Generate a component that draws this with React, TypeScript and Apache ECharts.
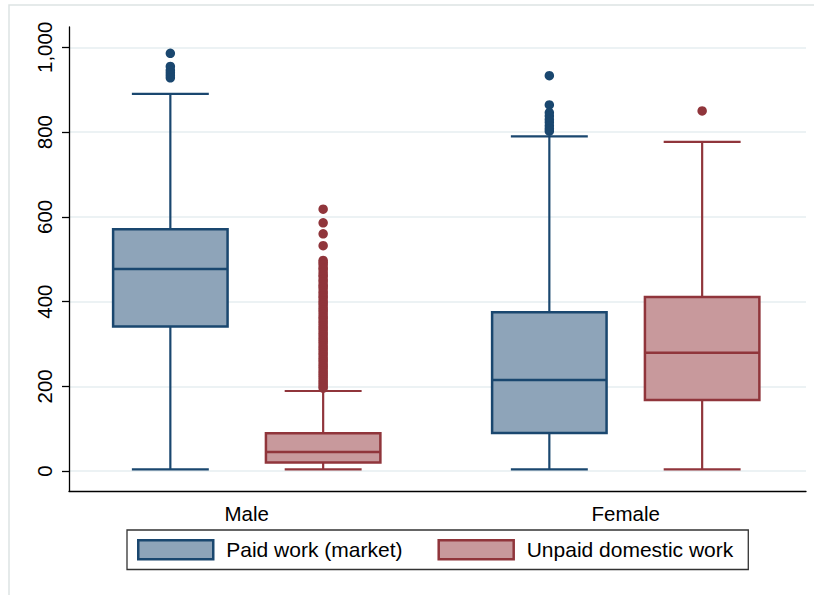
import React, { useEffect, useRef } from 'react';
import * as echarts from 'echarts';

const groups = ['Male', 'Female'];
const seriesNames = ['Paid work (market)', 'Unpaid domestic work'];
// [min, q1, median, q3, upper whisker] for Male, Female
const paidStats = [
  [4, 341, 477, 571, 890],
  [4, 90, 215, 375, 790],
];
const unpaidStats = [
  [4, 20, 45, 89, 189],
  [4, 168, 279, 411, 777],
];
const paidOutliersMale = [986, 955, 946, 940, 934, 928];
const paidOutliersFemale = [933, 864, 846, 838, 830, 823, 815, 808, 802];
const unpaidOutliersMale = [
  618, 586, 560, 532, 497, 492, 487, 480, 476, 469, 463, 459, 452, 447, 440, 436, 431, 424,
  419, 413, 409, 402, 397, 392, 386, 381, 376, 370, 364, 360, 354, 349, 343, 338, 333, 327,
  322, 316, 311, 306, 301, 295, 290, 285, 279, 274, 268, 263, 258, 252, 247, 242, 236, 231,
  226, 221, 215, 210, 205, 200, 196,
];
const unpaidOutliersFemale = [850];
const yTicks = [0, 200, 400, 600, 800, 1000];

const BLUE = '#1a476f';
const BLUE_FILL = '#8ea4b9';
const RED = '#90353b';
const RED_FILL = '#c8999c';
const FONT = 'Liberation Sans, Arial, sans-serif';

const OFFSET = 0.2016;
const BOX_W = 0.302;
const CAP_W = 0.203;

function makeRender(offset: number, stroke: string, fill: string) {
  return (params: any, api: any) => {
    const x = api.value(0) + offset;
    const pMin = api.coord([x, api.value(1)]);
    const pQ1 = api.coord([x, api.value(2)]);
    const pMed = api.coord([x, api.value(3)]);
    const pQ3 = api.coord([x, api.value(4)]);
    const pMax = api.coord([x, api.value(5)]);
    const bw = api.size([BOX_W, 0])[0];
    const cw = api.size([CAP_W, 0])[0];
    const cx = pMin[0];
    const ls = { stroke, lineWidth: 2.2 };
    return {
      type: 'group',
      children: [
        { type: 'line', shape: { x1: cx, y1: pQ3[1], x2: cx, y2: pMax[1] }, style: ls },
        { type: 'line', shape: { x1: cx, y1: pQ1[1], x2: cx, y2: pMin[1] }, style: ls },
        { type: 'line', shape: { x1: cx - cw / 2, y1: pMax[1], x2: cx + cw / 2, y2: pMax[1] }, style: ls },
        { type: 'line', shape: { x1: cx - cw / 2, y1: pMin[1], x2: cx + cw / 2, y2: pMin[1] }, style: ls },
        {
          type: 'rect',
          shape: { x: cx - bw / 2, y: pQ3[1], width: bw, height: pQ1[1] - pQ3[1] },
          style: { fill, stroke, lineWidth: 2.5 },
        },
        { type: 'line', shape: { x1: cx - bw / 2, y1: pMed[1], x2: cx + bw / 2, y2: pMed[1] }, style: { stroke, lineWidth: 2.5 } },
      ],
    };
  };
}

export default function App() {
  const ref = useRef<HTMLDivElement>(null);
  useEffect(() => {
    if (!ref.current) return;
    const chart = echarts.init(ref.current, null, { renderer: 'svg' });
    const paidData = paidStats.map((s, i) => [i, ...s]);
    const unpaidData = unpaidStats.map((s, i) => [i, ...s]);
    const paidOut = [
      ...paidOutliersMale.map((v) => [0 - OFFSET, v]),
      ...paidOutliersFemale.map((v) => [1 - OFFSET, v]),
    ];
    const unpaidOut = [
      ...unpaidOutliersMale.map((v) => [0 + OFFSET, v]),
      ...unpaidOutliersFemale.map((v) => [1 + OFFSET, v]),
    ];
    chart.setOption({
      animation: false,
      backgroundColor: '#ffffff',
      textStyle: { fontFamily: FONT },
      graphic: [
        {
          type: 'rect',
          shape: { x: 9, y: 5, width: 1000, height: 1000 },
          style: { fill: 'none', stroke: '#dde3e3', lineWidth: 1.5 },
          silent: true,
          z: -10,
        },
      ],
      grid: { left: 69, right: 8, top: 27, bottom: 104 },
      xAxis: {
        type: 'value',
        min: -0.469,
        max: 1.4756,
        axisLine: { show: true, onZero: false, lineStyle: { color: '#000', width: 1.3 } },
        axisTick: { show: false },
        splitLine: { show: false },
        axisLabel: {
          customValues: [0, 1],
          formatter: (v: number) => groups[Math.round(v)],
          fontSize: 20.5,
          color: '#000',
          margin: 12,
          fontFamily: FONT,
        },
      },
      yAxis: {
        type: 'value',
        min: -47,
        max: 1048,
        axisLine: { show: true, onZero: false, lineStyle: { color: '#000', width: 1.3 } },
        axisTick: { show: true, length: 7, customValues: yTicks, lineStyle: { color: '#000', width: 1.3 } },
        axisLabel: {
          customValues: yTicks,
          rotate: 90,
          margin: 14,
          fontSize: 20.5,
          color: '#000',
          fontFamily: FONT,
          formatter: (v: number) => v.toLocaleString('en-US'),
        },
        splitLine: { show: true, lineStyle: { color: '#e6eef0', width: 1.6 } },
      },
      legend: {
        left: 127,
        top: 530,
        orient: 'horizontal',
        padding: [9, 15, 9, 10],
        itemWidth: 75,
        itemHeight: 19,
        itemGap: 35,
        borderColor: '#333',
        borderWidth: 1.3,
        selectedMode: false,
        textStyle: { fontSize: 21, color: '#000', fontFamily: FONT, padding: [0, 0, 0, 8] },
        data: [
          { name: seriesNames[0], icon: 'rect', itemStyle: { color: BLUE_FILL, borderColor: BLUE, borderWidth: 2.5 } },
          { name: seriesNames[1], icon: 'rect', itemStyle: { color: RED_FILL, borderColor: RED, borderWidth: 2.5 } },
        ],
      },
      series: [
        {
          name: seriesNames[0],
          type: 'custom',
          renderItem: makeRender(-OFFSET, BLUE, BLUE_FILL),
          encode: { x: 0, y: [1, 2, 3, 4, 5] },
          itemStyle: { color: BLUE_FILL, borderColor: BLUE },
          data: paidData,
          z: 3,
        },
        {
          name: seriesNames[1],
          type: 'custom',
          renderItem: makeRender(OFFSET, RED, RED_FILL),
          encode: { x: 0, y: [1, 2, 3, 4, 5] },
          itemStyle: { color: RED_FILL, borderColor: RED },
          data: unpaidData,
          z: 3,
        },
        {
          name: 'Paid outliers',
          type: 'scatter',
          symbol: 'circle',
          symbolSize: 9.5,
          itemStyle: { color: BLUE, opacity: 1 },
          data: paidOut,
          z: 4,
        },
        {
          name: 'Unpaid outliers',
          type: 'scatter',
          symbol: 'circle',
          symbolSize: 9.5,
          itemStyle: { color: RED, opacity: 1 },
          data: unpaidOut,
          z: 4,
        },
      ],
    });
    return () => chart.dispose();
  }, []);
  return (
    <div
      ref={ref}
      style={{ position: 'fixed', left: 0, top: 0, width: 814, height: 595, background: '#fff' }}
    />
  );
}
